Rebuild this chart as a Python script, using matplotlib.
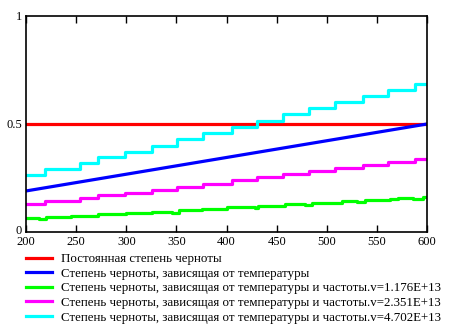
import numpy as np
import matplotlib
matplotlib.use("Agg")
from matplotlib import pyplot as plt
from matplotlib import transforms

# temperature range, K
t_range = [200, 600]

# constant emissivity
eps_const = [0.5, 0.5]

# emissivity depending on temperature
t_lin = [200, 600]
eps_temp = [0.19, 0.5]

# step points (start of each step) for frequency-dependent emissivity
t_steps = [200, 219, 254, 272, 299, 326, 351, 377, 405, 430, 456, 482, 508, 536, 561, 588, 600]
eps_v2 = [0.130, 0.143, 0.156, 0.170, 0.182, 0.194, 0.210, 0.221, 0.239, 0.253, 0.269,
          0.282, 0.296, 0.310, 0.323, 0.337, 0.337]
eps_v3 = [0.264, 0.292, 0.318, 0.349, 0.372, 0.400, 0.429, 0.457, 0.488, 0.515, 0.545,
          0.573, 0.600, 0.628, 0.656, 0.684, 0.684]

# v1 is noisier, read separately
t_v1 = [200, 213, 220, 245, 272, 300, 326, 346, 353, 376, 400, 428, 431, 458, 478, 485,
        515, 530, 538, 563, 571, 586, 596, 600]
eps_v1 = [0.063, 0.059, 0.069, 0.074, 0.082, 0.086, 0.094, 0.090, 0.100, 0.108, 0.114,
          0.110, 0.122, 0.130, 0.126, 0.134, 0.142, 0.138, 0.147, 0.153, 0.157, 0.153,
          0.164, 0.164]

labels = [
    "Постоянная степень черноты",
    "Степень черноты, зависящая от температуры",
    "Степень черноты, зависящая от температуры и частоты.v=1.176E+13",
    "Степень черноты, зависящая от температуры и частоты.v=2.351E+13",
    "Степень черноты, зависящая от температуры и частоты.v=4.702E+13",
]

plt.rcParams['font.family'] = ['Liberation Serif', 'DejaVu Serif']

W, H = 453, 335
fig = plt.figure(figsize=(W / 100, H / 100), dpi=100)
ax = fig.add_axes([26 / W, (H - 232) / H, (427 - 26) / W, (232 - 16) / H])

lw = 2.3
ax.plot(t_range, eps_const, color="#ff0000", lw=lw, label=labels[0])
ax.plot(t_lin, eps_temp, color="#0000ff", lw=lw, label=labels[1])
ax.plot(t_v1, eps_v1, color="#00ff00", lw=lw, drawstyle="steps-post", label=labels[2])
ax.plot(t_steps, eps_v2, color="#ff00ff", lw=lw, drawstyle="steps-post", label=labels[3])
ax.plot(t_steps, eps_v3, color="#00ffff", lw=lw, drawstyle="steps-post", label=labels[4])

ax.set_xlim(200, 600)
ax.set_ylim(0, 1)
ax.set_xticks(np.arange(200, 601, 50))
ax.set_yticks([0, 0.5, 1])
ax.set_yticklabels(["0", "0.5", "1"])
ax.tick_params(axis="x", direction="in", top=True, length=5, width=1, labelsize=9, pad=3)
ax.tick_params(axis="y", length=0, labelsize=9, pad=3)
for s in ax.spines.values():
    s.set_linewidth(1.2)

# lift the "0" a little so it does not sit on "200"
zero_lbl = ax.get_yticklabels()[0]
zero_lbl.set_transform(zero_lbl.get_transform() +
                       transforms.ScaledTranslation(0, 3 / 100, fig.dpi_scale_trans))

handles, labs = ax.get_legend_handles_labels()
fig.legend(handles, labs, loc="upper left", bbox_to_anchor=(26 / W, 1 - 253 / H),
           frameon=False, fontsize=9.3, handlelength=2.0, handletextpad=0.7,
           labelspacing=0.2, borderpad=0, borderaxespad=0)

fig.savefig("out.png", dpi=100)
